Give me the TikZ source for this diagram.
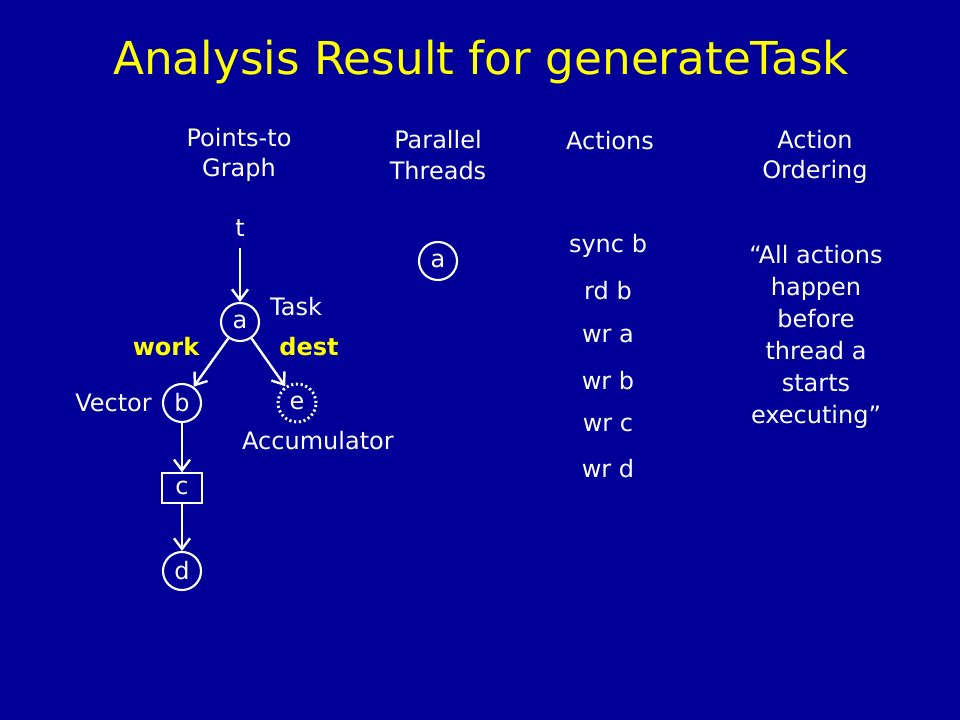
\documentclass[tikz,border=0pt]{standalone}
\usepackage{fontspec}
\setmainfont{DejaVu Sans}
\usetikzlibrary{arrows.meta}
\definecolor{bgblue}{RGB}{0,0,153}
\definecolor{titleyellow}{RGB}{255,255,0}
\begin{document}
\begin{tikzpicture}[x=0.75pt,y=-0.75pt,
  every node/.style={text=white,font=\fontsize{18}{21}\selectfont},
  hdr/.style={align=center,font=\fontsize{18}{23}\selectfont},
  lbl/.style={inner sep=0pt},
  ylbl/.style={inner sep=0pt,text=titleyellow,font=\fontsize{18}{21}\selectfont\bfseries},
  objc/.style={circle,draw=white,line width=1.6pt,minimum size=28.5pt,inner sep=0pt},
  objd/.style={objc,dotted,line width=2.2pt},
  objr/.style={rectangle,draw=white,line width=1.6pt,minimum width=30pt,minimum height=22pt,inner sep=0pt},
  edge/.style={draw=white,line width=1.8pt,-{Straight Barb[length=8pt,width=12pt,line width=1.8pt]}},
  act/.style={inner sep=0pt},
  ord/.style={align=center,font=\fontsize{18}{24}\selectfont}
]
\fill[bgblue] (0,0) rectangle (960,720);
\useasboundingbox (0,0) rectangle (960,720);

\node[text=titleyellow,font=\fontsize{34}{40}\selectfont] (title) at (481,62) {Analysis Result for generateTask};

\node[hdr] (h1) at (239,155) {Points-to\\Graph};
\node[hdr] (h2) at (438,155) {Parallel\\Threads};
\node[hdr] (h3) at (610,141) {Actions};
\node[hdr] (h4) at (815,157) {Action\\Ordering};

% points-to graph
\node[lbl] (t) at (240,228) {t};
\coordinate (tstart) at (240,248);
\node[objc] (a) at (240,322) {a};
\node[lbl] (task) at (296,307) {Task};
\node[objc] (b) at (182,403) {b};
\node[lbl,anchor=east] (vector) at (152,403) {Vector};
\node[objd] (e) at (297,403) {e};
\node[lbl] (acc) at (318,441) {Accumulator};
\node[objr] (c) at (182,488) {c};
\node[objc] (d) at (182,571) {d};
\node[ylbl] (work) at (166,347) {work};
\node[ylbl] (dest) at (309,347) {dest};

\draw[edge] (tstart) -- (a);
\draw[edge] (a) -- (b);
\draw[edge] (a) -- (e);
\draw[edge] (b) -- (c);
\draw[edge] (c) -- (d);

% parallel threads
\node[objc] (pa) at (438,261) {a};

% actions
\node[act] (s1) at (608,246) {sync b};
\node[act] (s2) at (608,291) {rd b};
\node[act] (s3) at (608,336) {wr a};
\node[act] (s4) at (608,381) {wr b};
\node[act] (s5) at (608,425) {wr c};
\node[act] (s6) at (608,469) {wr d};

% action ordering
\node[ord] (ordtext) at (816,337) {\textquotedblleft All actions\\happen\\before\\thread a\\starts\\executing\textquotedblright};
\end{tikzpicture}
\end{document}
